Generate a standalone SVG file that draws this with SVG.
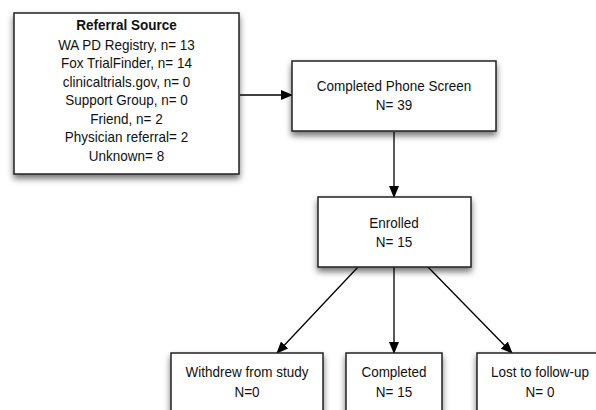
<svg xmlns="http://www.w3.org/2000/svg" width="596" height="410" viewBox="0 0 596 410">
<defs>
<filter id="sh" x="-20%" y="-20%" width="140%" height="150%">
<feDropShadow dx="0" dy="4" stdDeviation="3" flood-color="#000" flood-opacity="0.55"/>
</filter>
<marker id="ah" markerWidth="12" markerHeight="10" refX="11" refY="5" orient="auto" markerUnits="userSpaceOnUse">
<path d="M0,0 L12,5 L0,10 Z" fill="#000"/>
</marker>
<style>
.box{fill:#fff;stroke:#222;stroke-width:1.5;filter:url(#sh)}
text{font-family:"Liberation Sans",Arial,Helvetica,sans-serif;font-size:15px;fill:#111;text-anchor:middle}
.b{font-weight:bold}
.c{stroke:#000;stroke-width:1.3;fill:none;marker-end:url(#ah)}
</style>
</defs>
<rect width="596" height="410" fill="#fff"/>
<g id="connectors">
<line class="c" x1="240" y1="95" x2="292" y2="95"/>
<line class="c" x1="394" y1="132" x2="394" y2="197"/>
<line class="c" x1="358" y1="267" x2="277" y2="353"/>
<line class="c" x1="394" y1="267" x2="394" y2="353"/>
<line class="c" x1="428" y1="267" x2="512" y2="353"/>
</g>
<g id="referral">
<rect class="box" x="14" y="13" width="225" height="161"/>
<g transform="translate(126.5 0) scale(0.9 1)">
<text x="0" y="30" class="b">Referral Source</text>
<text x="0" y="50">WA PD Registry, n= 13</text>
<text x="0" y="68.5">Fox TrialFinder, n= 14</text>
<text x="0" y="87">clinicaltrials.gov, n= 0</text>
<text x="0" y="105.5">Support Group, n= 0</text>
<text x="0" y="124">Friend, n= 2</text>
<text x="0" y="142.5">Physician referral= 2</text>
<text x="0" y="161">Unknown= 8</text>
</g>
</g>
<g id="phone">
<rect class="box" x="292" y="61" width="204" height="70"/>
<g transform="translate(394 0) scale(0.9 1)">
<text x="0" y="91">Completed Phone Screen</text>
<text x="0" y="110">N= 39</text>
</g>
</g>
<g id="enrolled">
<rect class="box" x="318" y="197" width="153" height="70"/>
<g transform="translate(394 0) scale(0.9 1)">
<text x="0" y="228">Enrolled</text>
<text x="0" y="247">N= 15</text>
</g>
</g>
<g id="withdrew">
<rect class="box" x="171" y="353" width="152" height="60"/>
<g transform="translate(247 0) scale(0.9 1)">
<text x="0" y="377">Withdrew from study</text>
<text x="0" y="397">N=0</text>
</g>
</g>
<g id="completed">
<rect class="box" x="346" y="353" width="96" height="60"/>
<g transform="translate(394 0) scale(0.9 1)">
<text x="0" y="377">Completed</text>
<text x="0" y="397">N= 15</text>
</g>
</g>
<g id="lost">
<rect class="box" x="477" y="353" width="126" height="60"/>
<g transform="translate(540 0) scale(0.9 1)">
<text x="0" y="377">Lost to follow-up</text>
<text x="0" y="397">N= 0</text>
</g>
</g>
</svg>
